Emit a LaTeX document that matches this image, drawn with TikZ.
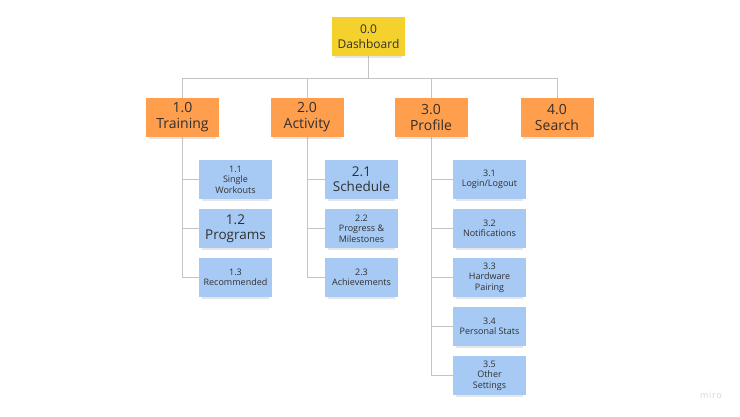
\documentclass[tikz,border=0pt]{standalone}
\usepackage{fontspec}
\setmainfont{Open Sans}
\usetikzlibrary{shadows,backgrounds}
\definecolor{stickyyellow}{HTML}{F5D12E}
\definecolor{stickyorange}{HTML}{FF9E4D}
\definecolor{stickyblue}{HTML}{A7CAF5}
\definecolor{linegray}{HTML}{C4C4C4}
\definecolor{markgray}{HTML}{D6D6D6}
\definecolor{ink}{HTML}{303030}
\begin{document}
\begin{tikzpicture}
  [x=1pt,y=-1pt,
   note/.style={text=ink, align=center, inner sep=0pt,
     minimum width=73pt, minimum height=39pt,
     drop shadow={shadow xshift=0pt, shadow yshift=-3.5pt, shadow scale=0.93, opacity=.2}},
   top/.style={note, fill=stickyyellow, font=\fontsize{12}{14.5}\selectfont},
   main/.style={note, fill=stickyorange, font=\fontsize{14}{16}\selectfont},
   sub/.style={note, fill=stickyblue, font=\fontsize{9}{10.5}\selectfont},
   big/.style={sub, font=\fontsize{13.5}{15}\selectfont},
   link/.style={draw=linegray, line width=1pt}]
  \useasboundingbox (0,0) rectangle (740,416);

  % top level
  \node[top] (d0) at (368.5,36.5) {0.0\\Dashboard};
  \coordinate (bus) at (0,78);

  % main sections
  \node[main] (t0) at (182.5,117.5) {1.0\\Training};
  \node[main] (a0) at (307,117.5) {2.0\\Activity};
  \node[main] (p0) at (431,117.5) {3.0\\Profile};
  \node[main] (s0) at (557,117.5) {4.0\\Search};

  % training
  \node[sub] (t1) at (235.5,179.5) {1.1\\Single\\Workouts};
  \node[big] (t2) at (235.5,228.5) {1.2\\Programs};
  \node[sub] (t3) at (235.5,277.5) {1.3\\Recommended};

  % activity
  \node[big] (a1) at (361.5,179.5) {2.1\\Schedule};
  \node[sub] (a2) at (361.5,228.5) {2.2\\Progress \&\\Milestones};
  \node[sub] (a3) at (361.5,277.5) {2.3\\Achievements};

  % profile
  \node[sub] (p1) at (489.5,179.5) {3.1\\Login/Logout};
  \node[sub] (p2) at (489.5,228.5) {3.2\\Notifications};
  \node[sub] (p3) at (489.5,277.5) {3.3\\Hardware\\Pairing};
  \node[sub] (p4) at (489.5,326.5) {3.4\\Personal Stats};
  \node[sub] (p5) at (489.5,375.5) {3.5\\Other\\Settings};

  \node[text=markgray, font=\fontsize{9}{10}\selectfont\addfontfeatures{LetterSpace=8}] (mark) at (711,395) {miro};

\begin{scope}[on background layer]
  \path[link]
    (d0.south) edge (d0.south |- bus)
    (t0.north |- bus) edge (s0.north |- bus)
    (t0.north) edge (t0.north |- bus)
    (a0.north) edge (a0.north |- bus)
    (p0.north) edge (p0.north |- bus)
    (s0.north) edge (s0.north |- bus);
  \draw[link] (t0.south) |- (t3.west);
  \draw[link] (a0.south) |- (a3.west);
  \draw[link] (p0.south) |- (p5.west);
  \path[link]
    (t0.south |- t1.west) edge (t1.west)
    (t0.south |- t2.west) edge (t2.west)
    (a0.south |- a1.west) edge (a1.west)
    (a0.south |- a2.west) edge (a2.west)
    (p0.south |- p1.west) edge (p1.west)
    (p0.south |- p2.west) edge (p2.west)
    (p0.south |- p3.west) edge (p3.west)
    (p0.south |- p4.west) edge (p4.west);
\end{scope}
\end{tikzpicture}
\end{document}
